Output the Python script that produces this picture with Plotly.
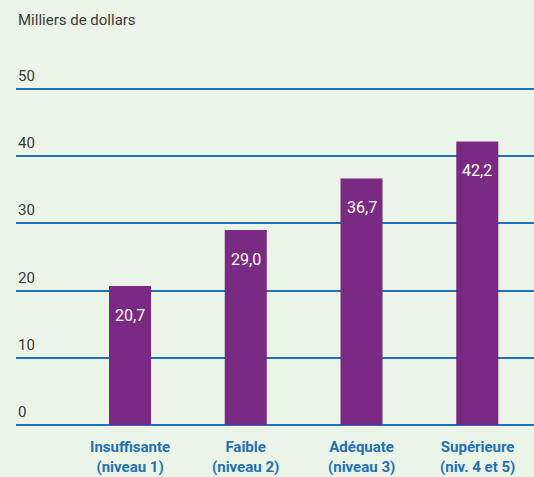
import plotly.graph_objects as go

categories = ["Insuffisante<br>(niveau 1)", "Faible<br>(niveau 2)", "Adéquate<br>(niveau 3)", "Supérieure<br>(niv. 4 et 5)"]
values = [20.7, 29.0, 36.7, 42.2]
y_ticks = [0, 10, 20, 30, 40, 50]
y_title = "Milliers de dollars"

BG = "#eaf4e7"
BAR = "#7b2a83"
GRID = "#2070b8"
LABEL = "#1f70b8"
FONT = "Roboto"

x = list(range(len(categories)))
fig = go.Figure()
fig.add_trace(go.Bar(x=x, y=values, width=0.363, marker=dict(color=BAR, line=dict(width=0)),
                     hoverinfo="skip"))

for xi, v in zip(x, values):
    fig.add_annotation(x=xi, y=v, xref="x", yref="y", text=f"{v:.1f}".replace(".", ","),
                       showarrow=False, yanchor="top", yshift=-18,
                       font=dict(family=FONT, size=16, color="white"))

for t in y_ticks:
    fig.add_annotation(x=0, y=t, xref="paper", yref="y", text=str(t), showarrow=False,
                       xanchor="left", yanchor="bottom", yshift=2, xshift=0,
                       font=dict(family=FONT, size=15, color="#3a3a3a"))

for xi, c in zip(x, categories):
    fig.add_annotation(x=xi, y=0, xref="x", yref="y", text="<b>" + c.replace("<br>", "</b><br><b>") + "</b>",
                       showarrow=False, yanchor="top", yshift=-11,
                       font=dict(family=FONT, size=15, color=LABEL))

fig.add_annotation(x=0, y=1, xref="paper", yref="paper", text=y_title, showarrow=False,
                   xanchor="left", yanchor="bottom", yshift=57,
                   font=dict(family=FONT, size=15, color="#3a3a3a"))

fig.update_layout(
    width=534, height=477,
    margin=dict(l=16, r=0, t=88, b=51),
    paper_bgcolor=BG, plot_bgcolor=BG,
    showlegend=False,
    xaxis=dict(range=[-0.985, 3.49], showticklabels=False, showgrid=False, zeroline=False, fixedrange=True),
    yaxis=dict(range=[-0.15, 50.15], tickvals=y_ticks, showticklabels=False, showgrid=True,
               gridcolor=GRID, gridwidth=1.5, zeroline=False, fixedrange=True),
)
fig.write_html("out.html", config={"displayModeBar": False},
               post_script="document.body.style.margin='0';document.body.style.overflow='hidden';")
